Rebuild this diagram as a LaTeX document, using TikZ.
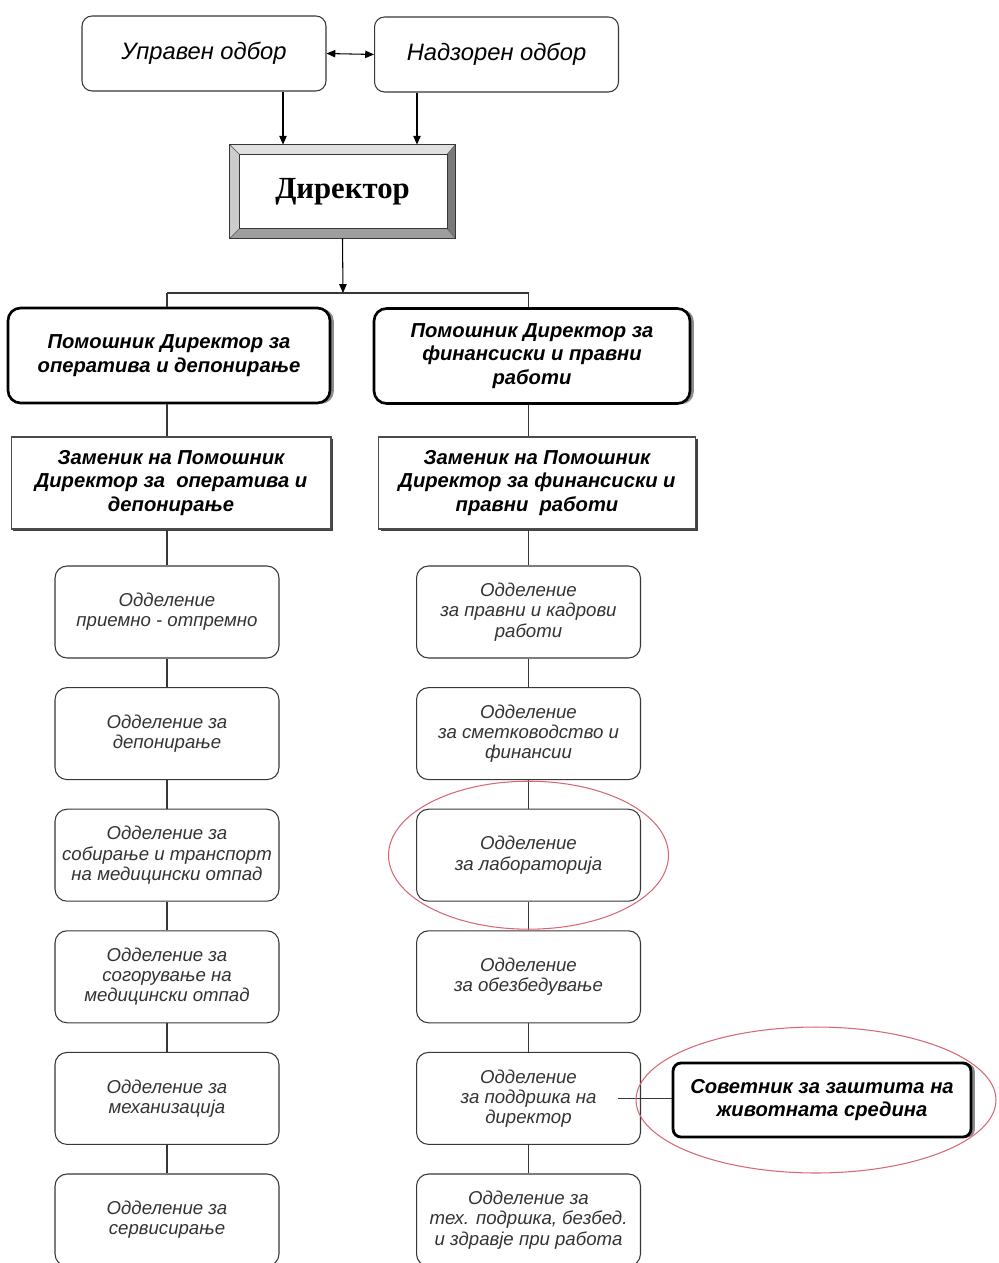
\documentclass[tikz,border=0pt]{standalone}
\usepackage{fontspec}
\setmainfont{Liberation Sans}
\newfontfamily\dirfont{Liberation Serif}
\usetikzlibrary{arrows.meta, positioning, shadows, calc}

\definecolor{ringred}{RGB}{214,104,116}
\definecolor{linegray}{RGB}{55,55,55}

\begin{document}
\begin{tikzpicture}[x=0.02cm, y=-0.02cm,
    board/.style={draw=linegray, line width=0.6pt, rounded corners=0.2cm, fill=white, minimum width=4.88cm, minimum height=1.5cm, align=center, font=\fontsize{13.5}{15}\selectfont\itshape},
    dirbox/.style={minimum width=4.5cm, minimum height=1.86cm, inner sep=0pt, font=\dirfont\bfseries\fontsize{17.5}{20}\selectfont},
    head/.style={draw=black, line width=1.5pt, rounded corners=0.25cm, fill=white, minimum height=1.9cm, align=center, font=\fontsize{11.5}{13.3}\selectfont\bfseries\itshape, drop shadow={shadow xshift=2.2pt, shadow yshift=-0.4pt, fill=black!45, opacity=1}},
    deputy/.style={draw=black!70, line width=0.6pt, fill=white, minimum height=1.84cm, align=center, font=\fontsize{11.5}{13.3}\selectfont\bfseries\itshape, drop shadow={shadow xshift=1.4pt, shadow yshift=-1.4pt, fill=black!75, opacity=1}},
    dept/.style={draw=linegray, line width=0.6pt, rounded corners=0.24cm, fill=white, minimum width=4.48cm, minimum height=1.84cm, inner xsep=1pt, align=center, text=black!80, font=\fontsize{10.6}{11.5}\selectfont\itshape},
    advisor/.style={draw=black, line width=1.6pt, rounded corners=0.16cm, fill=white, minimum width=5.96cm, minimum height=1.48cm, align=center, font=\fontsize{11.5}{12.6}\selectfont\bfseries\itshape, drop shadow={shadow xshift=2.2pt, shadow yshift=-0.3pt, fill=black!45, opacity=1}},
    arrow/.style={-{Triangle[length=5pt, width=4.2pt]}, line width=0.6pt, draw=black},
    dblarrow/.style={{Triangle[length=5pt, width=4.2pt]}-{Triangle[length=5pt, width=4.2pt]}, line width=0.6pt, draw=black},
    link/.style={line width=0.6pt, draw=linegray},
    ring/.style={draw=ringred, line width=0.6pt}
]
    \useasboundingbox (0,0) rectangle (998,1263);

    % Boards
    \node[board] (upr) at (204,53.5) {Управен одбор};
    \node[board] (nad) at (496.5,54.5) {Надзорен одбор};

    % Director with bevelled frame
    \node[dirbox] (dir) at (342.5,191.5) {Директор};
    \coordinate (din1) at ([shift={(0.19cm,-0.19cm)}]dir.north west);
    \coordinate (din2) at ([shift={(-0.16cm,-0.19cm)}]dir.north east);
    \coordinate (din3) at ([shift={(-0.16cm,0.19cm)}]dir.south east);
    \coordinate (din4) at ([shift={(0.19cm,0.19cm)}]dir.south west);
    \fill[black!12] (dir.north west) -- (dir.north east) -- (din2) -- (din1) -- cycle;
    \fill[black!20] (dir.north west) -- (din1) -- (din4) -- (dir.south west) -- cycle;
    \fill[black!52] (dir.north east) -- (dir.south east) -- (din3) -- (din2) -- cycle;
    \fill[black!38] (dir.south west) -- (din4) -- (din3) -- (dir.south east) -- cycle;
    \foreach \c/\i in {north west/din1, north east/din2, south east/din3, south west/din4}
        \draw[black!60, line width=0.4pt] (dir.\c) -- (\i);
    \draw[linegray, line width=0.7pt] (din1) rectangle (din3);
    \draw[linegray, line width=0.7pt] (dir.north west) rectangle (dir.south east);

    % Assistant directors
    \node[head, minimum width=6.44cm] (pl) at (169,355.5) {Помошник Директор за\\оператива и депонирање};
    \node[head, minimum width=6.32cm] (pr) at (532,356) {Помошник Директор за\\финансиски и правни\\работи};

    % Deputies
    \node[deputy, minimum width=6.4cm] (zl) at (171,483) {Заменик на Помошник\\Директор за \ оператива и\\депонирање};
    \node[deputy, minimum width=6.34cm] (zr) at (537,483) {Заменик на Помошник\\Директор за финансиски и\\правни \ работи};

    % Departments, left
    \node[dept] (l1) at (167,612) {Одделение\\приемно - отпремно};
    \node[dept] (l2) at (167,733.6) {Одделение за\\депонирање};
    \node[dept] (l3) at (167,855.2) {Одделение за\\собирање и транспорт\\на медицински отпад};
    \node[dept] (l4) at (167,976.8) {Одделение за\\согорување на\\медицински отпад};
    \node[dept] (l5) at (167,1098.4) {Одделение за\\механизација};
    \node[dept] (l6) at (167,1220) {Одделение за\\сервисирање};

    % Departments, right
    \node[dept] (r1) at (528.5,612) {Одделение\\за правни и кадрови\\работи};
    \node[dept] (r2) at (528.5,733.6) {Одделение\\за сметководство и\\финансии};
    \node[dept] (r3) at (528.5,855.2) {Одделение\\за лабораторија};
    \node[dept] (r4) at (528.5,976.8) {Одделение\\за обезбедување};
    \node[dept] (r5) at (528.5,1098.4) {Одделение\\за поддршка на\\директор};
    \node[dept] (r6) at (528.5,1220) {Одделение за\\тех. подршка, безбед.\\и здравје при работа};

    % Advisor
    \node[advisor] (sov) at (822,1100) {Советник за заштита на\\животната средина};

    % Connect
    \draw[dblarrow] (upr.east) -- (nad.west);
    \coordinate (inL) at ([xshift=-1.19cm]dir.north);
    \coordinate (inR) at ([xshift=1.49cm]dir.north);
    \draw[arrow] (inL |- upr.south) -- (inL);
    \draw[arrow] (inR |- nad.south) -- (inR);
    \coordinate (split) at (343,293);
    \draw[arrow] (dir.south) -- (split);
    \draw[link] (l1 |- split) -- (r1 |- split);
    \draw[link] (l1 |- split) -- (l1 |- pl.north);
    \draw[link] (r1 |- split) -- (r1 |- pr.north);
    \foreach \a/\b in {pl/zl, zl/l1, l1/l2, l2/l3, l3/l4, l4/l5, l5/l6}
        \draw[link] (l1 |- \a.south) -- (l1 |- \b.north);
    \foreach \a/\b in {pr/zr, zr/r1, r1/r2, r2/r3, r3/r4, r4/r5, r5/r6}
        \draw[link] (r1 |- \a.south) -- (r1 |- \b.north);
    \coordinate (tap) at ([xshift=-0.46cm]r5.east);
    \draw[link] (tap) -- (tap -| sov.west);

    % Highlights
    \draw[ring] (r3) ellipse [x radius=2.8cm, y radius=1.48cm];
    \draw[ring] ([xshift=-0.12cm]sov.center) ellipse [x radius=3.6cm, y radius=1.46cm];
\end{tikzpicture}
\end{document}
